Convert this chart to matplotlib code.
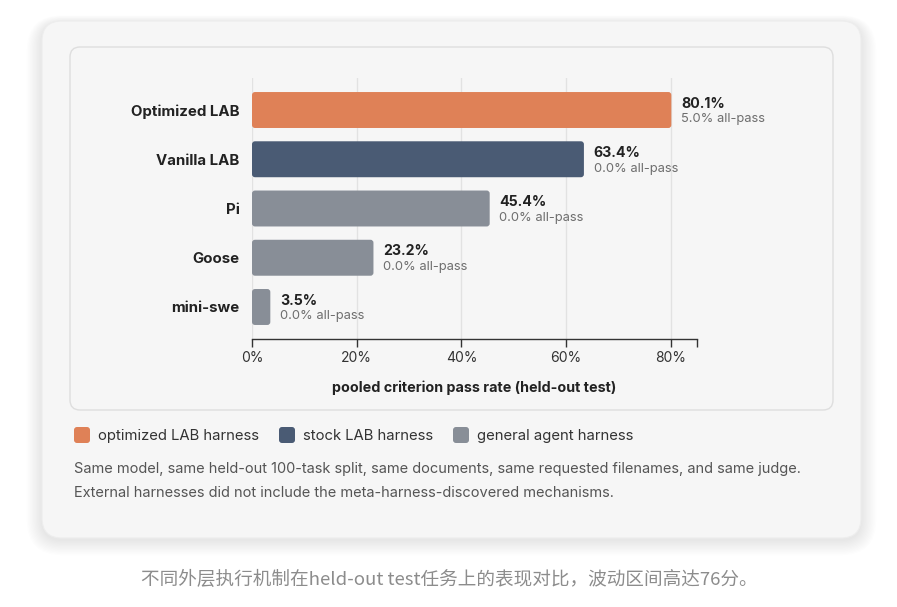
import matplotlib
matplotlib.use("Agg")
import matplotlib.pyplot as plt
from matplotlib.patches import FancyBboxPatch
from matplotlib.transforms import IdentityTransform

# data
harnesses = ["Optimized LAB", "Vanilla LAB", "Pi", "Goose", "mini-swe"]
pass_rate = [80.1, 63.4, 45.4, 23.2, 3.5]
all_pass = [5.0, 0.0, 0.0, 0.0, 0.0]
kinds = ["optimized", "stock", "general", "general", "general"]
ticks = [0, 20, 40, 60, 80]

kind_colors = {"optimized": "#df8157", "stock": "#4a5b74", "general": "#888e97"}
kind_labels = {"optimized": "optimized LAB harness",
               "stock": "stock LAB harness",
               "general": "general agent harness"}

W, H = 897, 607
plt.rcParams['font.family'] = ['Inter', 'DejaVu Sans']

fig = plt.figure(figsize=(W / 100, H / 100), dpi=100)
fig.patch.set_facecolor("white")


def px_box(x0, y0, x1, y1, r, **kw):
    # box given in image pixels (y from top)
    p = FancyBboxPatch((x0, H - y1), x1 - x0, y1 - y0,
                       boxstyle="round,pad=0,rounding_size=%g" % r,
                       transform=IdentityTransform(), **kw)
    fig.add_artist(p)
    return p


# card shadow
for i in range(12):
    g = 1 + i * 1.3
    px_box(42 - g, 21 - g * 0.5 + 2, 861 + g, 538 + g + 2, 20 + g,
           facecolor="black", edgecolor="none", alpha=0.008, zorder=0)
px_box(42, 21, 861, 538, 20, facecolor="#f6f6f6", edgecolor="#ededed", lw=0.8, zorder=1)
px_box(70, 47, 833, 410, 10, facecolor="#f6f6f6", edgecolor="#dedede", lw=1.0, zorder=2)

# axes
left, right, top, bottom = 252, 697, 78, 339
ax = fig.add_axes([left / W, 1 - bottom / H, (right - left) / W, (bottom - top) / H])
ax.set_facecolor("none")
ax.set_zorder(3)
ax.set_xlim(0, 85)
ax.set_ylim(4.65, -0.65)

for t in ticks:
    ax.axvline(t, color="#e2e2e2", lw=1, zorder=0)

xu = 85 / (right - left)
yu = 5.3 / (bottom - top)
bar_h = 0.73
for i, (v, k) in enumerate(zip(pass_rate, kinds)):
    p = FancyBboxPatch((0, i - bar_h / 2), v, bar_h,
                       boxstyle="round,pad=0,rounding_size=%g" % (3 * xu),
                       mutation_aspect=yu / xu,
                       facecolor=kind_colors[k], edgecolor="none", zorder=2)
    ax.add_patch(p)
    ax.annotate("%.1f%%" % v, (v, i), xytext=(7, 4.5), textcoords="offset points",
                ha="left", va="center", fontsize=10.2, fontweight="bold", color="#222222")
    ax.annotate("%.1f%% all-pass" % all_pass[i], (v, i), xytext=(7, -6.8),
                textcoords="offset points", ha="left", va="center",
                fontsize=9.3, color="#6e6e6e")

for s in ["top", "right", "left"]:
    ax.spines[s].set_visible(False)
ax.spines["bottom"].set_color("#333333")
ax.spines["bottom"].set_linewidth(1)

ax.set_xticks(ticks + [85])
ax.set_xticklabels(["%d%%" % t for t in ticks] + [""])
ax.tick_params(axis="x", length=6, width=1, color="#333333", labelsize=10,
               labelcolor="#333333", pad=3)
ax.set_yticks(range(len(harnesses)))
ax.set_yticklabels(harnesses, fontweight="bold", fontsize=10.8, color="#222222")
ax.tick_params(axis="y", length=0, pad=9)
ax.set_xlabel("pooled criterion pass rate (held-out test)", fontsize=10.3,
              fontweight="bold", color="#222222", labelpad=11)

# legend
leg_x = [(74, 98), (279, 303), (453, 477)]
for (sx, tx), k in zip(leg_x, ["optimized", "stock", "general"]):
    px_box(sx, 427, sx + 16, 443, 3, facecolor=kind_colors[k], edgecolor="none", zorder=4)
    fig.text(tx / W, 1 - 436 / H, kind_labels[k], fontsize=10.7, color="#333333",
             ha="left", va="center")

fig.text(74 / W, 1 - 469 / H,
         "Same model, same held-out 100-task split, same documents, same requested filenames, and same judge.",
         fontsize=10.5, color="#555555", ha="left", va="center")
fig.text(74 / W, 1 - 493 / H,
         "External harnesses did not include the meta-harness-discovered mechanisms.",
         fontsize=10.5, color="#555555", ha="left", va="center")

fig.text(449 / W, 1 - 580 / H, "不同外层执行机制在held-out test任务上的表现对比，波动区间高达76分。",
         fontsize=13.4, color="#8c8c8c", ha="center", va="center",
         family=["Noto Sans CJK SC", "DejaVu Sans"], fontweight="light")

fig.savefig("out.png", dpi=100, facecolor="white")
